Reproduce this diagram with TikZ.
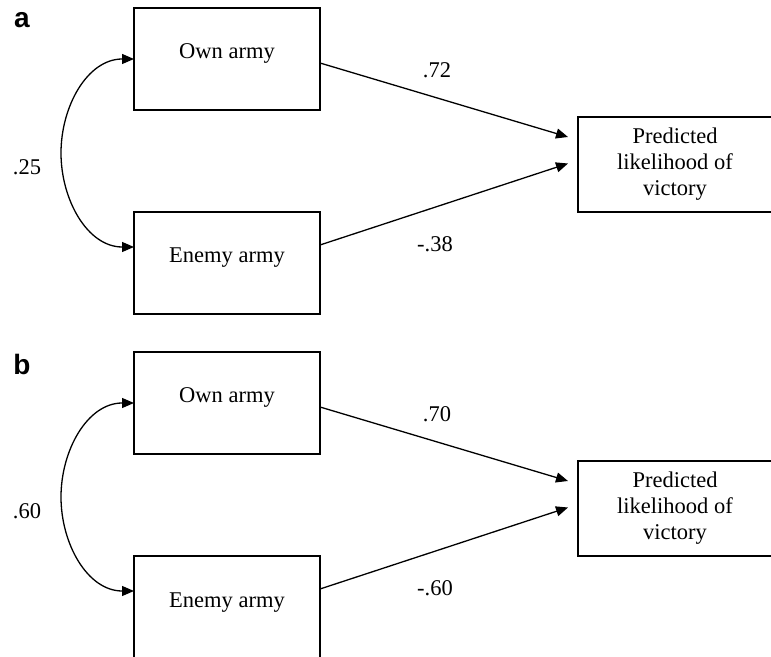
\documentclass[tikz,border=0pt]{standalone}
\usepackage{fontspec}
\setmainfont{Liberation Serif}
\setsansfont{Liberation Sans}
\usetikzlibrary{arrows.meta}

\begin{document}
\begin{tikzpicture}[x=0.5pt,y=-0.5pt,inner sep=0pt,outer sep=0pt,
    every node/.style={font=\fontsize{11.25}{13}\selectfont},
    varbox/.style={draw,line width=0.65pt,minimum width=93pt,minimum height=51pt,text height=7.5pt,text depth=7.5pt},
    predbox/.style={draw,line width=0.65pt,minimum width=97pt,minimum height=47.5pt,align=center},
    path_arr/.style={line width=0.65pt,-{Triangle[length=6pt,width=5pt]}},
    corr_arr/.style={line width=0.65pt,{Triangle[length=6pt,width=5pt]}-{Triangle[length=6pt,width=5pt]}},
    panel/.style={font=\fontsize{14}{14}\selectfont\sffamily\bfseries}]
  \useasboundingbox (0,0) rectangle (771,657);
  % 
  \foreach \pan/\yo/\rcor/\bown/\benemy in {a/0/.25/.72/-.38, b/344/.60/.70/-.60}
  {
  \node[panel] (lbl_\pan) at (22,20+\yo) {\pan};
  \node[varbox] (own_\pan) at (227,59+\yo) {Own army};
  \node[varbox] (enemy_\pan) at (227,263+\yo) {Enemy army};
  \node[predbox] (pred_\pan) at (675,164.5+\yo) {Predicted\\likelihood of\\victory};
  \coordinate (mid_\pan) at (61,153+\yo);
  % 
  \draw[corr_arr] (own_\pan.west) to[out=180,in=90] (mid_\pan) to[out=-90,in=180] ([yshift=8pt]enemy_\pan.west);
  \draw[path_arr] ([yshift=-2pt]own_\pan.east) -- ([xshift=-5pt,yshift=13.75pt]pred_\pan.west);
  \draw[path_arr] ([yshift=9pt]enemy_\pan.east) -- ([xshift=-5pt,yshift=0.5pt]pred_\pan.west);
  % 
  \node (r_\pan) at (27,167+\yo) {\rcor};
  \node (b_own_\pan) at (437,70+\yo) {\bown};
  \node (b_enemy_\pan) at (435,244+\yo) {\benemy};
  }
\end{tikzpicture}
\end{document}
